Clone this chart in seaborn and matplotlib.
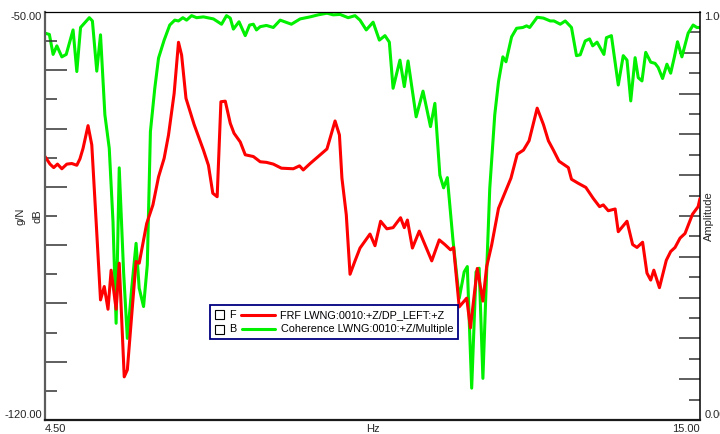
import matplotlib
matplotlib.use('Agg')
import matplotlib.pyplot as plt
import seaborn as sns
import numpy as np
from matplotlib.offsetbox import AnchoredOffsetbox, TextArea, DrawingArea, HPacker, VPacker
from matplotlib.patches import Rectangle
from matplotlib.lines import Line2D

# FRF magnitude (dB)
frf_hz = [4.50, 4.58, 4.64, 4.70, 4.77, 4.85, 4.93, 5.01, 5.06, 5.11, 5.19, 5.25, 5.32, 5.39,
          5.45, 5.51, 5.56, 5.64, 5.69, 5.77, 5.82, 5.89, 5.96, 6.01, 6.13, 6.23, 6.32, 6.41,
          6.48, 6.57, 6.64, 6.69, 6.76, 6.89, 7.04, 7.12, 7.19, 7.26, 7.32, 7.39, 7.47, 7.53,
          7.63, 7.71, 7.84, 7.95, 8.05, 8.16, 8.29, 8.48, 8.58, 8.64, 8.75, 8.88, 9.02, 9.15,
          9.22, 9.26, 9.33, 9.39, 9.47, 9.55, 9.71, 9.79, 9.88, 9.98, 10.08, 10.20, 10.26,
          10.31, 10.39, 10.50, 10.59, 10.70, 10.82, 10.91, 11.00, 11.05, 11.14, 11.26, 11.32,
          11.43, 11.52, 11.58, 11.66, 11.77, 11.87, 11.97, 12.07, 12.17, 12.26, 12.39, 12.49,
          12.57, 12.65, 12.74, 12.89, 12.94, 13.05, 13.17, 13.29, 13.39, 13.45, 13.53, 13.64,
          13.69, 13.83, 13.92, 13.99, 14.08, 14.15, 14.21, 14.26, 14.35, 14.46, 14.53, 14.60,
          14.68, 14.76, 14.88, 14.97, 15.00]
frf_db = [-74.8, -76.1, -76.7, -76.1, -76.9, -76.1, -76.0, -76.3, -75.2, -73.4, -69.5, -72.8,
          -86.0, -99.4, -97.1, -101.0, -94.3, -101.0, -93.1, -112.6, -111.4, -102.0, -92.8,
          -93.1, -86.3, -83.1, -78.3, -75.1, -71.1, -64.0, -55.2, -57.4, -64.8, -69.3, -73.7,
          -76.3, -81.1, -81.7, -65.4, -65.3, -69.1, -70.8, -72.3, -74.5, -74.8, -75.7, -75.8,
          -76.1, -76.8, -76.9, -76.4, -77.1, -76.0, -74.8, -73.5, -68.7, -71.1, -78.5, -84.8,
          -95.0, -92.7, -90.5, -88.1, -90.1, -85.9, -87.2, -87.0, -85.3, -87.0, -85.7, -90.5,
          -87.6, -89.9, -92.7, -89.1, -89.9, -90.8, -90.4, -100.6, -99.1, -104.2, -94.0, -99.6,
          -93.7, -90.0, -83.7, -81.1, -78.5, -74.4, -73.7, -72.1, -66.5, -69.3, -72.1, -73.7,
          -75.6, -76.7, -78.7, -79.4, -80.1, -82.0, -83.4, -83.1, -84.1, -83.8, -87.7, -85.9,
          -89.9, -90.4, -89.5, -94.8, -96.0, -94.3, -97.3, -92.6, -91.1, -90.4, -88.8, -88.0,
          -84.7, -83.4, -82.0]

# Coherence (0..1)
coh_hz = [4.50, 4.57, 4.63, 4.69, 4.77, 4.84, 4.95, 5.01, 5.07, 5.21, 5.26, 5.33, 5.39, 5.46,
          5.53, 5.59, 5.64, 5.69, 5.76, 5.82, 5.89, 5.96, 6.01, 6.08, 6.14, 6.19, 6.26, 6.32,
          6.41, 6.50, 6.58, 6.64, 6.71, 6.77, 6.85, 6.93, 7.04, 7.20, 7.33, 7.41, 7.47, 7.52,
          7.61, 7.71, 7.78, 7.84, 7.89, 7.95, 8.05, 8.16, 8.27, 8.45, 8.59, 8.75, 8.88, 9.02,
          9.12, 9.23, 9.36, 9.47, 9.55, 9.65, 9.76, 9.86, 9.95, 10.02, 10.08, 10.19, 10.26,
          10.32, 10.45, 10.56, 10.68, 10.75, 10.83, 10.89, 10.95, 11.04, 11.14, 11.22, 11.27,
          11.34, 11.41, 11.46, 11.52, 11.58, 11.63, 11.71, 11.77, 11.84, 11.89, 11.98, 12.06,
          12.16, 12.22, 12.27, 12.39, 12.49, 12.60, 12.66, 12.76, 12.84, 12.94, 13.02, 13.08,
          13.16, 13.23, 13.28, 13.35, 13.46, 13.50, 13.58, 13.69, 13.77, 13.83, 13.89, 13.96,
          14.01, 14.07, 14.13, 14.21, 14.28, 14.33, 14.40, 14.47, 14.53, 14.59, 14.64, 14.71,
          14.81, 14.89, 14.95, 15.00]
coh_amp = [0.948, 0.945, 0.896, 0.917, 0.890, 0.896, 0.956, 0.854, 0.962, 0.986, 0.978, 0.855,
           0.944, 0.748, 0.666, 0.486, 0.237, 0.618, 0.363, 0.200, 0.323, 0.433, 0.323, 0.278,
           0.380, 0.707, 0.813, 0.887, 0.931, 0.968, 0.980, 0.978, 0.986, 0.980, 0.991, 0.986,
           0.988, 0.983, 0.970, 0.991, 0.985, 0.958, 0.976, 0.942, 0.968, 0.970, 0.956, 0.964,
           0.967, 0.962, 0.980, 0.970, 0.983, 0.988, 0.993, 0.997, 0.993, 0.994, 0.986, 0.991,
           0.980, 0.956, 0.975, 0.931, 0.942, 0.926, 0.813, 0.882, 0.817, 0.880, 0.743, 0.806,
           0.719, 0.776, 0.600, 0.569, 0.594, 0.441, 0.298, 0.363, 0.376, 0.078, 0.363, 0.372,
           0.102, 0.363, 0.568, 0.748, 0.829, 0.890, 0.878, 0.939, 0.960, 0.962, 0.966, 0.962,
           0.987, 0.985, 0.978, 0.978, 0.970, 0.978, 0.962, 0.893, 0.895, 0.929, 0.934, 0.917,
           0.926, 0.896, 0.937, 0.942, 0.821, 0.893, 0.882, 0.782, 0.888, 0.839, 0.831, 0.901,
           0.877, 0.874, 0.864, 0.837, 0.872, 0.850, 0.890, 0.927, 0.890, 0.948, 0.968, 0.962,
           0.962]

x_minor = [5, 6, 7, 8, 9, 10, 11, 12, 13, 14]
db_minor = [v for v in range(-115, -50, 5) if v != -85]
amp_minor = [round(v * 0.05, 2) for v in range(1, 20) if v != 10]

sns.set_style("white")
plt.rcParams['font.family'] = ['Liberation Sans', 'DejaVu Sans']
plt.rcParams['font.size'] = 8

fig = plt.figure(figsize=(7.2, 4.34), dpi=100)
ax = fig.add_axes([0.0625, 0.0323, 0.9097, 0.9401])
ax2 = ax.twinx()
# FRF curve sits on top of the coherence curve
ax.set_zorder(ax2.get_zorder() + 1)
ax.patch.set_visible(False)

sns.lineplot(x=coh_hz, y=coh_amp, ax=ax2, color='#00f000', linewidth=2.2,
             estimator=None, sort=False)
sns.lineplot(x=frf_hz, y=frf_db, ax=ax, color='#ff0000', linewidth=2.2,
             estimator=None, sort=False)

tick_col = '#333333'

# x axis
ax.set_xlim(4.5, 15)
ax.set_xticks([4.5, 9.75, 15], ['4.50', 'Hz', '15.00'])
ax.set_xticks(x_minor, minor=True)
ax.tick_params(axis='x', which='major', length=0, pad=3, labelsize=8)
ax.tick_params(axis='x', which='minor', direction='in', length=3.6, width=1.1, color=tick_col)
for t, v in zip(ax.xaxis.get_minor_ticks(), x_minor):
    t.tick1line.set_markersize(14.4 if v == 10 else (7.2 if v == 5 else 3.6))
xl = ax.get_xticklabels()
xl[0].set_ha('left')
xl[2].set_ha('right')

# left (dB) axis
ax.set_ylim(-120, -50)
ax.set_yticks([-120, -85, -50], ['-120.00', 'dB', '-50.00'])
ax.set_yticks(db_minor, minor=True)
ax.tick_params(axis='y', which='major', direction='in', length=8.6, width=1.1,
               color=tick_col, pad=2, labelsize=8)
ax.tick_params(axis='y', which='minor', direction='in', length=8.6, width=1.1, color=tick_col)
for t, v in zip(ax.yaxis.get_minor_ticks(), db_minor):
    t.tick1line.set_markersize(15.8 if v % 10 == 0 else 8.6)
mt = ax.yaxis.get_major_ticks()
mt[0].tick1line.set_visible(False)
mt[2].tick1line.set_visible(False)
yl = ax.get_yticklabels()
yl[0].set_va('bottom')
yl[1].set_rotation(90)
yl[1].set_va('center')
yl[2].set_va('top')
ax.set_ylabel('g/N', fontsize=8)
ax.yaxis.set_label_coords(-0.0305, 0.5)
ax.set_xlabel('')

# right (coherence) axis
ax2.set_ylim(0, 1)
ax2.set_yticks([0, 0.5, 1], ['0.00', 'Amplitude', '1.00'])
ax2.set_yticks(amp_minor, minor=True)
ax2.tick_params(axis='y', which='major', direction='in', length=15, width=1.1,
                color=tick_col, pad=3, labelsize=8)
ax2.tick_params(axis='y', which='minor', direction='in', length=7.9, width=1.1, color=tick_col)
for t, v in zip(ax2.yaxis.get_minor_ticks(), amp_minor):
    t.tick2line.set_markersize(15 if round(v * 100) % 10 == 0 else 7.9)
mt2 = ax2.yaxis.get_major_ticks()
mt2[0].tick2line.set_visible(False)
mt2[2].tick2line.set_visible(False)
yr = ax2.get_yticklabels()
yr[0].set_va('bottom')
yr[1].set_rotation(90)
yr[1].set_va('center')
yr[2].set_va('top')
ax2.set_ylabel('')

# frame
for s in ['top', 'bottom', 'left']:
    ax2.spines[s].set_visible(False)
ax.spines['right'].set_visible(False)
ax.spines['left'].set_color('#5c5c5c')
ax.spines['left'].set_linewidth(1.6)
ax.spines['bottom'].set_color('#1a1a1a')
ax.spines['bottom'].set_linewidth(1.6)
ax.spines['top'].set_color('black')
ax.spines['top'].set_linewidth(0.9)
ax2.spines['right'].set_color('black')
ax2.spines['right'].set_linewidth(1.1)

# legend box with check squares and letter keys
def legend_row(letter, color, text):
    sq = DrawingArea(6.5, 6.5)
    sq.add_artist(Rectangle((0, 0), 6.5, 6.5, fc='white', ec='black', lw=0.8))
    key = TextArea(letter, textprops=dict(fontsize=7.8, color='black'))
    seg = DrawingArea(24, 6.5)
    seg.add_artist(Line2D([0, 24], [3.25, 3.25], color=color, lw=2.2))
    lab = TextArea(text, textprops=dict(fontsize=7.8, color='black'))
    return HPacker(children=[sq, key, seg, lab], align='center', pad=0, sep=4)

rows = VPacker(children=[legend_row('F', '#ff0000', 'FRF LWNG:0010:+Z/DP_LEFT:+Z'),
                         legend_row('B', '#00f000', 'Coherence LWNG:0010:+Z/Multiple')],
               align='left', pad=0, sep=3)
box = AnchoredOffsetbox(loc='center', child=rows, pad=0.45, borderpad=0, frameon=True,
                        prop=dict(size=8), bbox_to_anchor=(0.4412, 0.2402),
                        bbox_transform=ax.transAxes)
box.patch.set_boxstyle('square', pad=0)
box.patch.set_edgecolor('#000080')
box.patch.set_linewidth(1.3)
ax.add_artist(box)

fig.savefig('out.png', dpi=100, facecolor='white')
plt.close(fig)
